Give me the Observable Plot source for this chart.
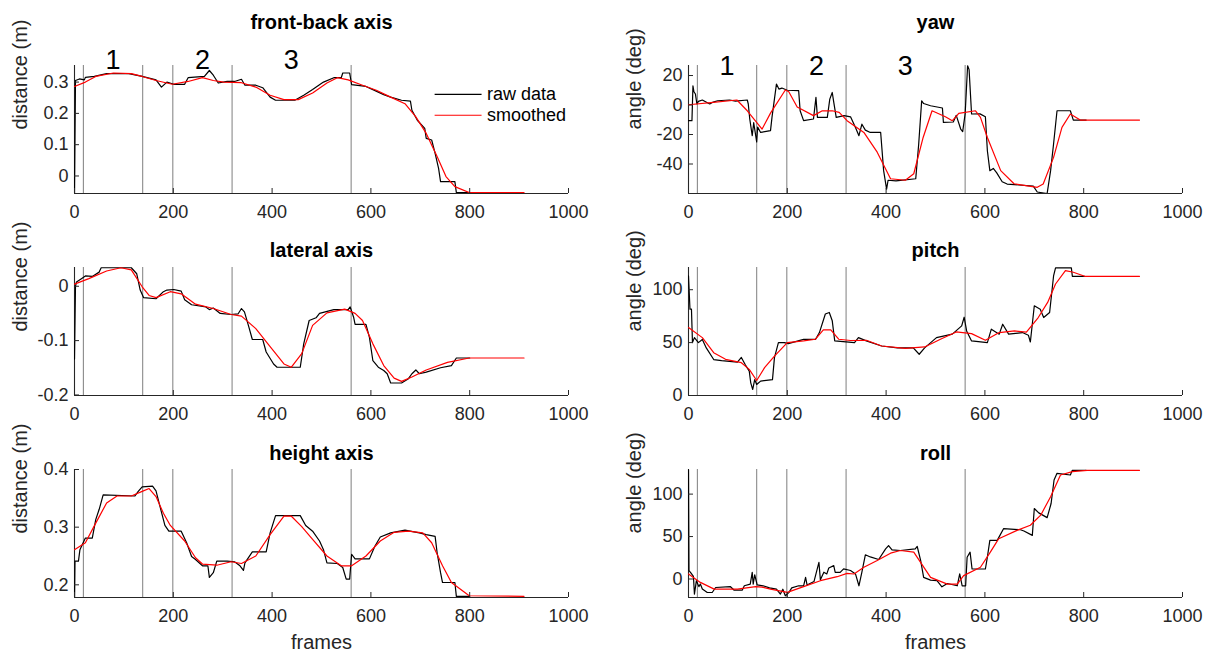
<!DOCTYPE html>
<html><head><meta charset="utf-8">
<script src="https://cdn.jsdelivr.net/npm/d3@7"></script>
<script src="https://cdn.jsdelivr.net/npm/@observablehq/plot@0.6"></script>
<style>
body{margin:0;background:#fff;}
#chart{position:relative;width:1215px;height:660px;background:#fff;font-family:"Liberation Sans",Arial,Helvetica,sans-serif;}
#chart svg{position:absolute;overflow:visible;}
</style></head><body><div id="chart"></div>
<script>
// ---------- shared ----------
const xTicks = [0, 200, 400, 600, 800, 1000];
const xTickLabels = ["0", "200", "400", "600", "800", "1000"];
const eventFrames = [18, 138, 199, 319, 560];
const phaseLabels = ["1", "2", "3"];
const phaseFrames = [78, 259, 439];
const legendLabels = ["raw data", "smoothed"];
const legendColors = ["#000000", "#ff0000"];

// ---------- front-back axis ----------
const fbRawF = [0,2,10,20,22,40,65,110,137,165,176,187,201,223,230,263,273,281,291,309,324,338,345,367,381,396,407,446,464,482,504,525,540,543,557,561,590,604,626,640,662,680,683,694,709,712,723,730,737,741,770,773,800];
const fbRawV = [-0.06,0.305,0.31,0.307,0.315,0.318,0.327,0.327,0.318,0.307,0.284,0.30,0.293,0.293,0.314,0.318,0.337,0.322,0.297,0.302,0.302,0.309,0.29,0.29,0.282,0.252,0.242,0.242,0.258,0.276,0.30,0.314,0.314,0.329,0.329,0.292,0.286,0.276,0.26,0.252,0.242,0.239,0.21,0.178,0.152,0.12,0.115,0.072,0.024,-0.018,-0.018,-0.053,-0.053];
const fbSmF = [0,22,43,79,115,137,165,198,230,259,281,302,338,367,396,424,453,482,511,532,554,583,611,640,669,691,712,734,752,770,799,910];
const fbSmV = [0.286,0.30,0.318,0.329,0.327,0.318,0.305,0.293,0.302,0.314,0.305,0.30,0.298,0.284,0.258,0.244,0.244,0.265,0.297,0.314,0.307,0.29,0.274,0.252,0.231,0.189,0.136,0.062,-0.002,-0.034,-0.053,-0.053];
const fbTicks = [0, 0.1, 0.2, 0.3];
const fbTickLabels = ["0", "0.1", "0.2", "0.3"];

// ---------- lateral axis ----------
const latRawF = [0,2,4,14,22,36,50,54,115,126,133,140,165,180,187,201,216,223,237,266,273,281,295,317,331,338,344,352,360,381,388,403,410,457,464,475,489,496,525,554,558,565,568,590,597,604,615,626,633,640,662,676,683,691,698,712,741,763,773,800];
const latRawV = [-0.134,0.0,0.008,0.014,0.019,0.018,0.026,0.034,0.034,0.023,-0.007,-0.021,-0.023,-0.01,-0.007,-0.006,-0.009,-0.025,-0.034,-0.038,-0.043,-0.04,-0.05,-0.052,-0.051,-0.041,-0.047,-0.072,-0.098,-0.098,-0.121,-0.143,-0.149,-0.149,-0.106,-0.063,-0.058,-0.05,-0.043,-0.043,-0.038,-0.057,-0.07,-0.07,-0.094,-0.137,-0.149,-0.155,-0.161,-0.178,-0.178,-0.17,-0.161,-0.154,-0.161,-0.158,-0.15,-0.146,-0.132,-0.132];
const latSmF = [0,29,65,94,115,137,151,165,194,216,245,281,317,338,367,396,424,439,460,482,511,547,568,583,604,626,647,662,683,712,755,799,910];
const latSmV = [0.004,0.014,0.028,0.034,0.03,-0.001,-0.017,-0.021,-0.01,-0.014,-0.033,-0.041,-0.052,-0.055,-0.078,-0.111,-0.143,-0.149,-0.124,-0.072,-0.049,-0.042,-0.05,-0.063,-0.106,-0.146,-0.169,-0.175,-0.167,-0.154,-0.14,-0.132,-0.132];
const latTicks = [-0.2, -0.1, 0];
const latTickLabels = ["-0.2", "-0.1", "0"];

// ---------- height axis ----------
const hRawF = [0,1,8,11,22,36,43,50,58,122,129,137,158,165,173,183,191,216,227,237,245,259,270,273,281,288,309,324,335,342,345,360,388,396,407,457,468,482,496,504,511,532,543,550,557,561,568,597,608,619,640,669,698,712,730,734,741,745,770,773,800];
const hRawV = [0.17,0.241,0.241,0.261,0.281,0.281,0.313,0.331,0.356,0.354,0.362,0.37,0.371,0.363,0.336,0.303,0.293,0.293,0.273,0.249,0.244,0.233,0.233,0.213,0.221,0.241,0.241,0.24,0.233,0.225,0.238,0.257,0.257,0.29,0.32,0.32,0.303,0.293,0.276,0.261,0.238,0.237,0.23,0.21,0.21,0.253,0.245,0.245,0.267,0.283,0.29,0.295,0.29,0.287,0.284,0.256,0.221,0.204,0.204,0.18,0.18];
const hSmF = [0,22,43,65,86,115,137,151,165,180,194,223,245,259,288,317,338,367,396,424,439,460,482,511,540,561,590,619,647,676,705,723,745,763,799,910];
const hSmV = [0.261,0.273,0.307,0.342,0.354,0.354,0.362,0.367,0.353,0.324,0.303,0.276,0.247,0.236,0.234,0.24,0.237,0.25,0.287,0.319,0.319,0.301,0.279,0.25,0.233,0.233,0.25,0.276,0.291,0.293,0.29,0.273,0.233,0.204,0.181,0.18];
const hTicks = [0.2, 0.3, 0.4];
const hTickLabels = ["0.2", "0.3", "0.4"];

// ---------- yaw ----------
const yawRawF = [0,7,9,11,14,17,20,28,43,50,59,83,95,119,121,124,129,132,138,140,146,166,169,178,183,189,200,223,226,233,253,258,261,281,286,291,294,299,315,328,338,345,351,358,368,389,395,401,404,420,460,466,472,476,490,514,516,536,542,551,555,560,565,568,573,590,601,605,610,617,624,635,645,698,706,726,733,739,746,773,779,805];
const yawRawV = [-10.6,-10.6,13,9,7.5,0.7,2.5,3.4,0.7,2,2.9,3.4,2.7,3.4,0.7,-9.5,-20.8,-12,-25,-15,-18.6,-17.4,-8.4,14.2,10.8,11.5,10,9.7,-3.9,-10.6,-9.5,5.2,-8.4,-8.4,4,8.5,2,-8.4,-7.2,-8,-15.2,-20.8,-13,-17,-18.6,-18.6,-44.5,-57,-51,-51.5,-50,-26.4,2.9,1,-0.5,-2,-11.8,-11.5,-7,-16.3,-18,-6,26.6,24,-6.1,-6,-8,-31,-44.5,-43,-46,-52,-53.6,-55,-59,-60,-44.5,-26.4,-3.9,-3.9,-10.2,-10.2];
const yawSmF = [0,50,98,119,149,166,196,203,220,253,270,291,305,321,355,382,409,439,456,475,493,520,534,543,547,581,591,605,632,659,706,718,739,756,773,793,913];
const yawSmV = [0.2,1.8,3.4,-3.9,-16.3,-5.5,10.2,9,-1.4,-7.2,-4,-3.9,-5,-10.6,-18.6,-32,-50,-51,-46.6,-22,-3.9,-8,-10.6,-7.3,-5.7,-3.9,-8.4,-22,-44.5,-53.4,-55.8,-53.6,-35.5,-15.2,-6.1,-10.2,-10.2];
const yawTicks = [-40, -20, 0, 20];
const yawTickLabels = ["-40", "-20", "0", "20"];

// ---------- pitch ----------
const pRawF = [0,3,6,8,12,20,28,36,51,67,99,107,115,123,126,130,134,138,146,170,174,182,194,202,233,257,265,277,285,291,296,336,344,360,391,423,455,467,478,502,534,553,558,563,573,605,613,629,636,648,676,688,692,700,712,719,731,739,743,775,777,802];
const pRawV = [113,81.6,81.6,50,54.7,50,53,45,34,33,31.6,36,29,23,12,5.7,15,10.4,13.6,15,35.8,50,50,49,53,53,59.5,77,78.5,70.6,51.6,50,54.7,51.6,46.8,45,45,39,45,54.7,58,65.8,74,61,51.6,50,62.7,58,67.4,58,59.5,57,50.6,84.8,81.6,73.7,78.5,113,120.6,120.6,112.7,112.7];
const pSmF = [0,28,51,75,107,123,138,154,174,200,233,257,273,288,304,328,360,391,439,478,510,542,573,601,629,660,684,708,727,743,763,779,802,913];
const pSmV = [64.2,54.7,40.5,34.2,31,24.7,14.2,26.3,37.3,50,51.6,53.2,62,62,53.2,52,52.2,46.8,44.6,45.9,53.2,60.1,58.5,52.2,59.5,61,60,73.7,88,105.4,118,116.5,112.7,112.7];
const pTicks = [0, 50, 100];
const pTickLabels = ["0", "50", "100"];

// ---------- roll ----------
const rRawF = [0,1,4,10,12,16,21,24,28,38,48,55,85,92,109,113,125,129,131,134,139,151,164,178,186,191,196,203,209,223,233,237,240,254,264,267,274,280,284,294,297,307,314,328,338,345,351,358,368,385,399,405,412,429,459,463,470,476,490,503,513,524,544,549,554,561,564,570,574,601,605,610,625,628,638,672,679,696,700,709,726,734,740,746,773,777,805];
const rRawV = [128.5,9.8,7.8,3,-17.8,-2,-9,-5.8,-11.7,-15.9,-15.9,-10,-9.1,-13,-13,-8,-6,7.8,-6,5,-7,-8,-10.5,-12,-17.8,-12,-19.8,-16,-10.5,-8,-8,1.9,-7,-3,19.7,-1,8,6,13,15.8,7.8,7.8,12,10,6,-8,8,28.5,26,23,35.5,39.4,34.3,33.6,35.5,38.3,21.6,1.9,-1.3,-2,-9.2,-5.3,-8,6,-8,-8,25.7,31.6,11.8,11.8,25.7,45.5,45.5,48.7,59.4,58,56.5,51.4,83,77.9,72.3,88.9,116.6,124.5,122.5,128,128];
const rSmF = [0,24,52,99,136,149,166,200,233,267,301,321,335,355,382,409,429,456,490,524,544,557,591,611,628,665,692,713,733,753,777,807,913];
const rSmV = [5.9,-4,-11.9,-11.9,-9,-9.5,-11.9,-15.8,-9,-2,2.7,6.7,5.9,13.8,21.7,30.4,33.6,31.6,1.9,-6,-6,4,13.8,31.6,47.5,57.3,63.3,75.2,97,122.5,126.5,128,128];
const rTicks = [0, 50, 100];
const rTickLabels = ["0", "50", "100"];

// ---------- drawing ----------
const pts = (f, v) => f.map((x, i) => ({frame: x, value: v[i]}));
const chart = document.getElementById("chart");

function panel(o) {
  const [y0, y1] = o.domain;
  const marks = [
    Plot.ruleX(eventFrames, {stroke: "#8a8a8a", strokeWidth: 1.1}),
    Plot.ruleY([y0], {stroke: "#262626", strokeWidth: 1.1}),
    Plot.ruleX([0], {stroke: "#262626", strokeWidth: 1.1}),
    Plot.line(pts(o.rawF, o.rawV), {x: "frame", y: "value", stroke: "#000", strokeWidth: 1.2, clip: true}),
    Plot.line(pts(o.smF, o.smV), {x: "frame", y: "value", stroke: "#ff0000", strokeWidth: 1.2, clip: true}),
    Plot.axisX({ticks: xTicks, tickSize: -5, tickPadding: 17, label: null, tickFormat: d => xTickLabels[xTicks.indexOf(d)], stroke: "#262626"}),
    Plot.axisY({ticks: o.ticks, tickSize: -5, tickPadding: 11, label: null, tickFormat: d => o.tickLabels[o.ticks.indexOf(d)], stroke: "#262626"}),
    Plot.text([o.title], {frameAnchor: "top", dy: o.titleDy, lineAnchor: "middle", fontWeight: "bold", fontSize: 20, fill: "#000"}),
    Plot.text([o.ylabel], {frameAnchor: "left", rotate: -90, dx: -54, fontSize: 20, fill: "#262626"})
  ];
  if (o.frames) marks.push(Plot.text(["frames"], {frameAnchor: "bottom", dy: 51, fontSize: 20, fill: "#262626"}));
  if (o.phases) marks.push(Plot.text(phaseLabels, {x: phaseFrames, frameAnchor: "top", dy: o.phaseDy, lineAnchor: "bottom", fontSize: 27, fill: "#000"}));
  if (o.legend) {
    const ly = [0.261, 0.194];
    marks.push(Plot.link(legendLabels, {x1: 729, x2: 824, y1: (d, i) => ly[i], y2: (d, i) => ly[i], stroke: (d, i) => legendColors[i], strokeWidth: 1.2}));
    marks.push(Plot.text(legendLabels, {x: 835, y: (d, i) => ly[i], text: d => d, textAnchor: "start", fontSize: 18, fill: "#000"}));
  }
  const svg = Plot.plot({
    width: o.w, height: o.h,
    marginLeft: o.ml, marginRight: o.w - o.ml - 494, marginTop: o.mt, marginBottom: o.h - o.mt - 128,
    x: {domain: [0, 1000], label: null},
    y: {domain: o.domain, label: null},
    color: {type: "identity"},
    style: {fontFamily: "'Liberation Sans', Arial, Helvetica, sans-serif", fontSize: "18px", color: "#262626", background: "transparent", overflow: "visible"},
    marks
  });
  svg.style.left = o.left + "px";
  svg.style.top = o.top + "px";
  chart.appendChild(svg);
}

const L = {left: 0, w: 600, ml: 74};
const R = {left: 600, w: 615, ml: 88};
const row1 = {top: 0, h: 230, mt: 65, titleDy: -43};
const row2 = {top: 230, h: 200, mt: 37, titleDy: -17};
const row3 = {top: 430, h: 230, mt: 39, titleDy: -16};

panel({...L, ...row1, title: "front-back axis", ylabel: "distance (m)", rawF: fbRawF, rawV: fbRawV, smF: fbSmF, smV: fbSmV, domain: [-0.056, 0.353], ticks: fbTicks, tickLabels: fbTickLabels, phases: true, phaseDy: 3, legend: true});
panel({...R, ...row1, title: "yaw", ylabel: "angle (deg)", rawF: yawRawF, rawV: yawRawV, smF: yawSmF, smV: yawSmV, domain: [-60, 26.8], ticks: yawTicks, tickLabels: yawTickLabels, phases: true, phaseDy: 9});
panel({...L, ...row2, title: "lateral axis", ylabel: "distance (m)", rawF: latRawF, rawV: latRawV, smF: latSmF, smV: latSmV, domain: [-0.201, 0.0345], ticks: latTicks, tickLabels: latTickLabels});
panel({...R, ...row2, title: "pitch", ylabel: "angle (deg)", rawF: pRawF, rawV: pRawV, smF: pSmF, smV: pSmV, domain: [0, 121], ticks: pTicks, tickLabels: pTickLabels});
panel({...L, ...row3, title: "height axis", ylabel: "distance (m)", rawF: hRawF, rawV: hRawV, smF: hSmF, smV: hSmV, domain: [0.178, 0.4], ticks: hTicks, tickLabels: hTickLabels, frames: true});
panel({...R, ...row3, title: "roll", ylabel: "angle (deg)", rawF: rRawF, rawV: rRawV, smF: rSmF, smV: rSmV, domain: [-21.8, 129], ticks: rTicks, tickLabels: rTickLabels, frames: true});
</script></body></html>
